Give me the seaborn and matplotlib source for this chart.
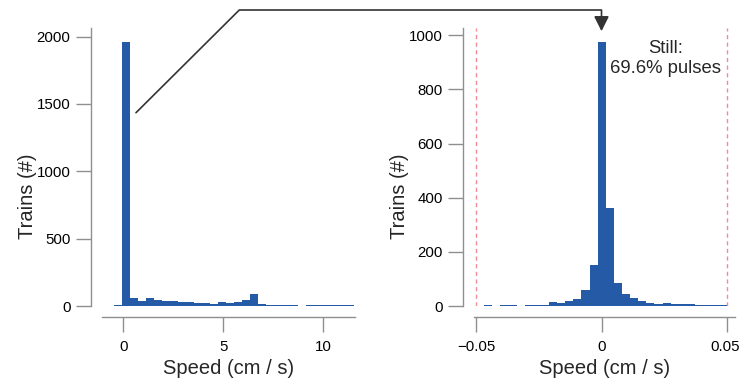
import numpy as np
import pandas as pd
import matplotlib
matplotlib.use("Agg")
import matplotlib.pyplot as plt
from matplotlib.lines import Line2D
from matplotlib.patches import FancyArrowPatch
from matplotlib.transforms import ScaledTranslation
import seaborn as sns

# ---- data (bin counts) ----
left_counts = [10, 1963, 58, 40, 56, 42, 40, 34, 30, 27, 20, 23, 12, 26, 24,
               28, 47, 92, 18, 8, 6, 5, 5, 1, 4, 4, 4, 4, 4, 4]
left_bin_start = -0.45
left_bin_width = 0.4

right_counts = [0, 5, 1, 2, 2, 1, 3, 5, 5, 13, 11, 17, 26, 60, 150, 976, 361,
                86, 46, 30, 17, 11, 9, 11, 8, 6, 8, 5, 4, 4, 2]
right_range = (-0.05, 0.05)

left_xticks = [0, 5, 10]
left_yticks = [0, 500, 1000, 1500, 2000]
right_xticks = [-0.05, 0, 0.05]
right_xticklabels = ["\u22120.05", "0", "0.05"]
right_yticks = [0, 200, 400, 600, 800, 1000]
xlabel = "Speed (cm / s)"
ylabel = "Trains (#)"
annot_text = "Still:\n69.6% pulses"

# ---- style ----
sns.set_style("ticks")
plt.rcParams["font.family"] = ["Liberation Sans", "DejaVu Sans"]
BLUE = "#245aa6"
GREY = "#8f8f8f"

W, H = 741, 388
fig = plt.figure(figsize=(W / 100, H / 100), dpi=100)

def px(x0, y0, x1, y1):
    return [x0 / W, 1 - y1 / H, (x1 - x0) / W, (y1 - y0) / H]

axL = fig.add_axes(px(101.7, 28, 355, 306))
axR = fig.add_axes(px(474, 28, 735, 306))

# left histogram
nL = len(left_counts)
binrangeL = (left_bin_start, left_bin_start + left_bin_width * nL)
centersL = left_bin_start + left_bin_width * (np.arange(nL) + 0.5)
dfL = pd.DataFrame({"speed": centersL, "count": left_counts})
sns.histplot(data=dfL, x="speed", weights="count", binwidth=left_bin_width,
             binrange=binrangeL, ax=axL, color=BLUE, alpha=1, linewidth=0)

# right histogram
nR = len(right_counts)
wR = (right_range[1] - right_range[0]) / nR
centersR = right_range[0] + wR * (np.arange(nR) + 0.5)
dfR = pd.DataFrame({"speed": centersR, "count": right_counts})
sns.histplot(data=dfR, x="speed", weights="count", bins=nR,
             binrange=right_range, ax=axR, color=BLUE, alpha=1, linewidth=0)

for xv in right_range:
    axR.axvline(xv, color="#f08c96", lw=1.0, ls=(0, (3, 2.5)), zorder=0)

axL.set_xlim(-1.08, 11.58)
axL.set_ylim(0, 2064)
axR.set_xlim(-0.0508, 0.0530)
axR.set_ylim(0, 1027)

axL.set_xticks(left_xticks)
axL.set_yticks(left_yticks)
axR.set_xticks(right_xticks)
axR.set_xticklabels(right_xticklabels)
axR.set_yticks(right_yticks)

for ax in (axL, axR):
    sns.despine(ax=ax, offset=8)
    for s in ("left", "bottom"):
        ax.spines[s].set_color(GREY)
        ax.spines[s].set_linewidth(1.0)
    ax.tick_params(axis="both", length=10.5, width=1.0, color=GREY,
                   labelsize=10.8, labelcolor="black")
    ax.tick_params(axis="y", pad=4)
    ax.tick_params(axis="x", pad=6)
    ax.set_xlabel(xlabel, fontsize=14.5)
    ax.set_ylabel(ylabel, fontsize=14.5)
    ax.xaxis.set_label_coords(0.5, -0.19)
    ax.grid(False)
axL.yaxis.set_label_coords(-0.255, 0.396)
axR.yaxis.set_label_coords(-0.25, 0.396)

axR.text(0.735, 0.89, annot_text, transform=axR.transAxes, ha="center",
         va="center", fontsize=13.3, linespacing=1.25)

# connector from left peak to right peak
def f(x, y):
    return (x / W, 1 - y / H)

pts = [f(136, 112.7), f(239.3, 10), f(601.5, 10), f(601.5, 22)]
fig.add_artist(Line2D([p[0] for p in pts], [p[1] for p in pts],
                      transform=fig.transFigure, color="#333333", lw=1.2))
fig.add_artist(FancyArrowPatch(
    f(601.5, 18), f(601.5, 34), transform=fig.transFigure,
    arrowstyle="-|>,head_length=6,head_width=3.0", color="#333333",
    lw=1.2, mutation_scale=1.5))

# keep the last x tick label inside the canvas
lbl = axR.get_xticklabels()[-1]
lbl.set_transform(lbl.get_transform() +
                  ScaledTranslation(-2.5 / 100, 0, fig.dpi_scale_trans))

fig.savefig("out.png", dpi=100)
